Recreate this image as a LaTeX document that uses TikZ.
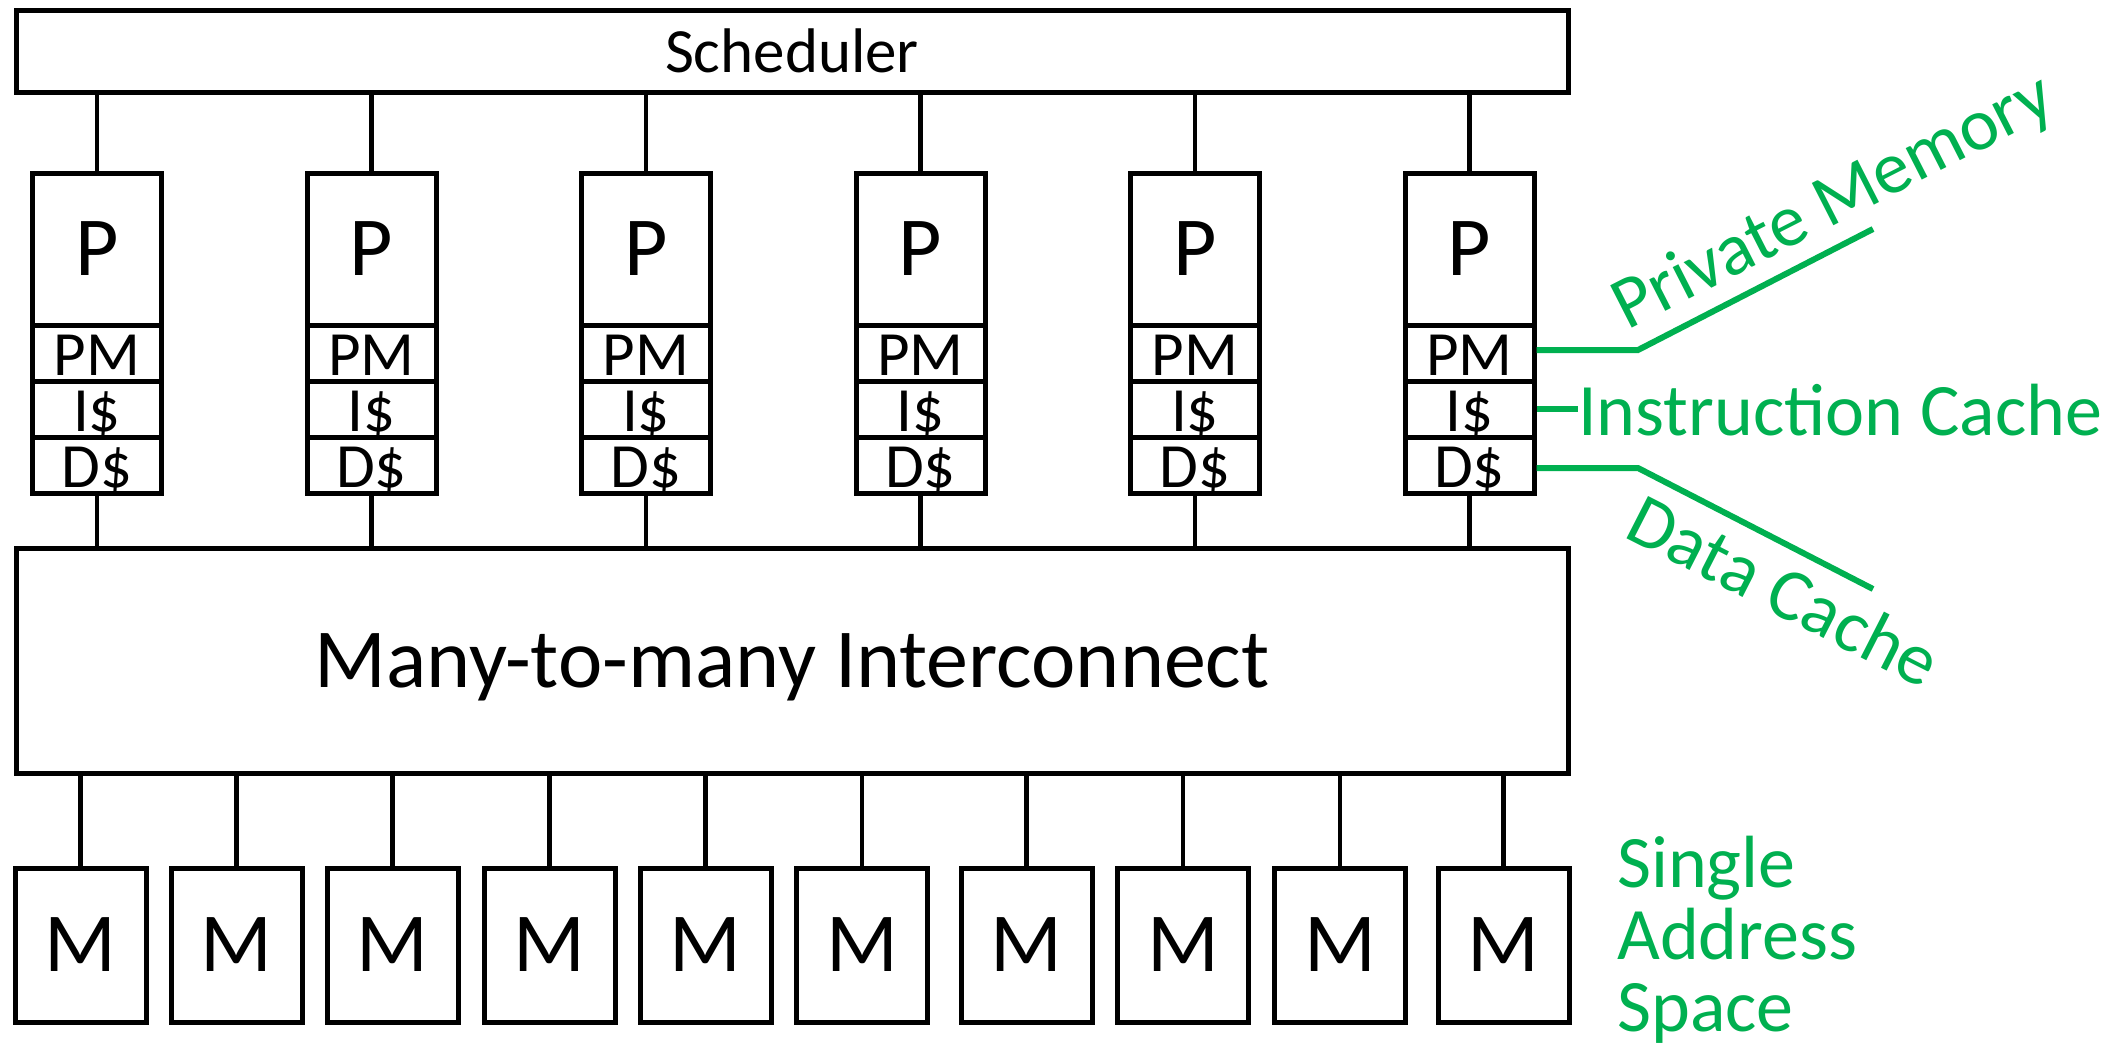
\documentclass[tikz,border=0pt]{standalone}
\usepackage{fontspec}
\setmainfont{Carlito}
\definecolor{callgreen}{HTML}{00B050}
\begin{document}
\begin{tikzpicture}[x=1pt,y=-1pt,
  box/.style={draw, line width=5pt, inner sep=0pt},
  smalltext/.style={font=\fontsize{63}{70}\selectfont},
  bigtext/.style={font=\fontsize{84}{95}\selectfont},
  cell/.style={box, smalltext, minimum width=129pt, text height=50pt, text depth=6pt},
  wire/.style={line width=4.5pt},
  callout/.style={draw=callgreen, line width=6pt},
  note/.style={text=callgreen, inner sep=0pt, font=\fontsize{74}{72}\selectfont}]
\useasboundingbox (0,0) rectangle (2123,1042);

% global blocks
\node[box, smalltext, text depth=0pt, minimum width=1552pt, minimum height=82pt] (sched) at (792,51) {Scheduler};
\node[box, bigtext, text depth=0pt, minimum width=1552pt, minimum height=225pt] (inter) at (792,660.5) {Many-to-many Interconnect};

% processors with private memory and caches
\foreach \i/\x in {1/97, 2/371.5, 3/646, 4/920.5, 5/1195, 6/1469.5} {
  \node[box, bigtext, minimum width=129pt, minimum height=152pt] (p\i) at (\x,249) {P};
  \node[cell] (pm\i) at (\x,353) {PM};
  \node[cell] (ic\i) at (\x,409) {I\$};
  \node[cell] (dc\i) at (\x,465) {D\$};
  \draw[wire] (p\i.north) -- (p\i.north |- sched.south);
  \draw[wire] (dc\i.south) -- (dc\i.south |- inter.north);
}

% memory banks
\foreach \j/\x in {1/80.5, 2/236.5, 3/392.5, 4/549.5, 5/705.5, 6/862, 7/1026.5, 8/1183, 9/1340, 10/1503.5} {
  \node[box, bigtext, minimum width=131pt, minimum height=154pt] (m\j) at (\x,945) {M};
  \draw[wire] (m\j.north) -- (m\j.north |- inter.south);
}

% annotations
\coordinate (pmbend) at (1638,350);
\coordinate (pmtip) at (1873,229);
\coordinate (dcbend) at (1638,468);
\coordinate (dctip) at (1873,589);
\node[note, anchor=base west] (iclabel) at (1578,435) {Instruction Cache};
\node[note, rotate=27, anchor=base west] (pmlabel) at (1627,331) {Private Memory};
\node[note, rotate=-27, anchor=base west] (dclabel) at (1622,536) {Data Cache};
% the base anchor of a multi-line node sits on its last line
\node[note, align=left, anchor=base west] (sas) at (1617,1031) {Single\\Address\\Space};
\draw[callout] (pm6.east |- pmbend) -- (pmbend) -- (pmtip);
\draw[callout] (dc6.east |- dcbend) -- (dcbend) -- (dctip);
\draw[callout] (ic6.east) -- (ic6.east -| iclabel.west);
\end{tikzpicture}
\end{document}
